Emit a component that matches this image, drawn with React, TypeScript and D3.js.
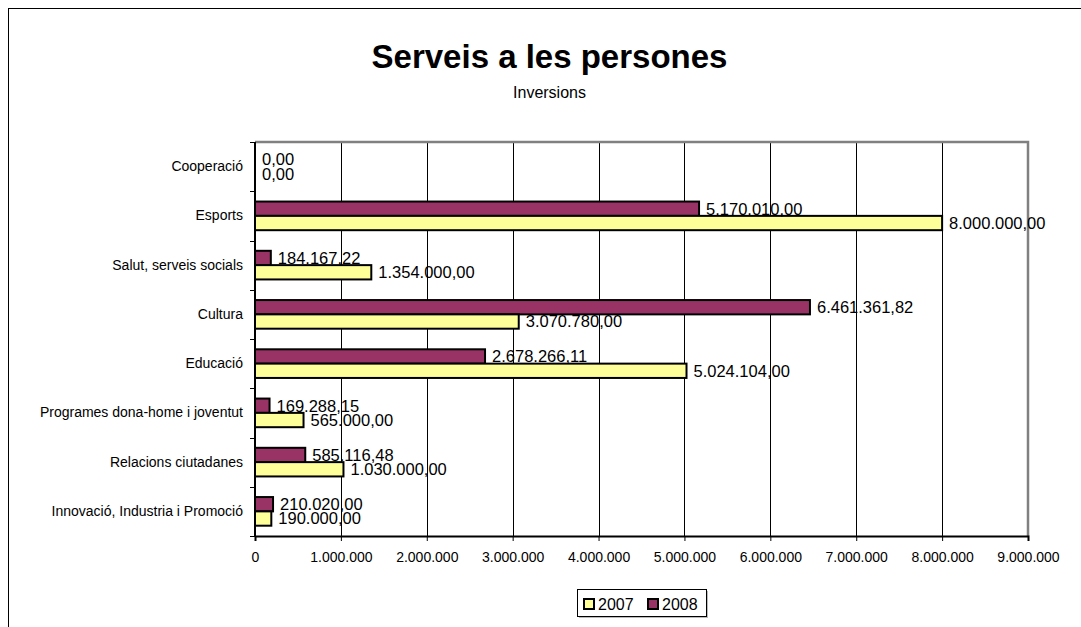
import React, { useEffect, useRef } from "react";
import * as d3 from "d3";

// categories, top to bottom as shown
const categories = [
  "Cooperació",
  "Esports",
  "Salut, serveis socials",
  "Cultura",
  "Educació",
  "Programes dona-home i joventut",
  "Relacions ciutadanes",
  "Innovació, Industria i Promoció"
];

const values2007 = [0, 8000000, 1354000, 3070780, 5024104, 565000, 1030000, 190000];
const values2008 = [0, 5170010, 184167.22, 6461361.82, 2678266.11, 169288.15, 585116.48, 210020];

const seriesNames = ["2007", "2008"];
const xTicks = [0, 1000000, 2000000, 3000000, 4000000, 5000000, 6000000, 7000000, 8000000, 9000000];

const FONT = "Arial, 'Liberation Sans', sans-serif";

export default function App() {
  const ref = useRef<SVGSVGElement>(null);

  useEffect(() => {
    const svg = d3.select(ref.current);
    svg.selectAll("*").remove();

    const locale = d3.formatLocale({
      decimal: ",",
      thousands: ".",
      grouping: [3],
      currency: ["", ""]
    });
    const fmtValue = locale.format(",.2f");
    const fmtTick = locale.format(",.0f");

    // plot area
    const left = 255,
      right = 1028,
      top = 142,
      bottom = 536;

    const x = d3.scaleLinear().domain([0, 9000000]).range([left, right]);
    const y = d3.scaleBand().domain(categories).range([top, bottom]).padding(0);
    const sub = d3
      .scaleBand()
      .domain(["2008", "2007"])
      .range([0, y.bandwidth()])
      .paddingInner(0)
      .paddingOuter(0.72);

    const colors: Record<string, string> = { "2007": "#FFFF99", "2008": "#993366" };

    // outer chart border
    svg
      .append("rect")
      .attr("x", 8.5)
      .attr("y", 8.5)
      .attr("width", 1200)
      .attr("height", 800)
      .attr("fill", "#fff")
      .attr("stroke", "#000")
      .attr("stroke-width", 1);

    // title
    svg
      .append("text")
      .attr("x", 549.5)
      .attr("y", 68)
      .attr("text-anchor", "middle")
      .style("font-family", FONT)
      .style("font-weight", "bold")
      .style("font-size", "33px")
      .text("Serveis a les persones");

    svg
      .append("text")
      .attr("x", 549.5)
      .attr("y", 98)
      .attr("text-anchor", "middle")
      .style("font-family", FONT)
      .style("font-size", "16px")
      .text("Inversions");

    // grid lines
    svg
      .append("g")
      .selectAll("line")
      .data(xTicks.slice(1, -1))
      .enter()
      .append("line")
      .attr("x1", d => Math.round(x(d)) + 0.5)
      .attr("x2", d => Math.round(x(d)) + 0.5)
      .attr("y1", top)
      .attr("y2", bottom)
      .attr("stroke", "#000")
      .attr("stroke-width", 1);

    // plot area border (grey top / right)
    svg
      .append("path")
      .attr("d", `M${left},${top} H${right} V${bottom}`)
      .attr("fill", "none")
      .attr("stroke", "#808080")
      .attr("stroke-width", 2.5);

    // bars
    const rows = categories.map((c, i) => ({
      cat: c,
      bars: [
        { key: "2008", value: values2008[i] },
        { key: "2007", value: values2007[i] }
      ]
    }));

    const groups = svg
      .append("g")
      .selectAll("g")
      .data(rows)
      .enter()
      .append("g")
      .attr("transform", d => `translate(0,${y(d.cat)})`);

    groups
      .selectAll("rect")
      .data(d => d.bars.filter(b => b.value > 0))
      .enter()
      .append("rect")
      .attr("x", left)
      .attr("y", d => sub(d.key)!)
      .attr("width", d => x(d.value) - left)
      .attr("height", sub.bandwidth())
      .attr("fill", d => colors[d.key])
      .attr("stroke", "#000")
      .attr("stroke-width", 2);

    groups
      .selectAll("text")
      .data(d => d.bars)
      .enter()
      .append("text")
      .attr("x", d => x(d.value) + 7)
      .attr("y", d => sub(d.key)! + sub.bandwidth() / 2)
      .attr("dy", "0.36em")
      .style("font-family", FONT)
      .style("font-size", "16.5px")
      .text(d => fmtValue(d.value));

    // left axis
    const leftAxis = svg
      .append("g")
      .attr("transform", `translate(${left},0)`)
      .call(
        d3
          .axisLeft(y)
          .tickSize(0)
          .tickPadding(12)
      );
    leftAxis.select(".domain").remove();
    leftAxis
      .selectAll("text")
      .style("font-family", FONT)
      .style("font-size", "14px")
      .attr("fill", "#000");

    // category boundary ticks
    const bounds = categories.map(c => y(c)!).concat([bottom]);
    svg
      .append("g")
      .selectAll("line")
      .data(bounds)
      .enter()
      .append("line")
      .attr("x1", left - 5)
      .attr("x2", left)
      .attr("y1", d => Math.round(d) + 0.5)
      .attr("y2", d => Math.round(d) + 0.5)
      .attr("stroke", "#000");

    svg
      .append("line")
      .attr("x1", left)
      .attr("x2", left)
      .attr("y1", top)
      .attr("y2", bottom)
      .attr("stroke", "#000")
      .attr("stroke-width", 2);

    // bottom axis
    const bottomAxis = svg
      .append("g")
      .attr("transform", `translate(0,${bottom})`)
      .call(
        d3
          .axisBottom(x)
          .tickValues(xTicks)
          .tickSize(5)
          .tickPadding(11)
          .tickFormat(d => fmtTick(+d))
      );
    bottomAxis.select(".domain").attr("stroke", "#000").attr("stroke-width", 2);
    bottomAxis.selectAll("line").attr("stroke", "#000");
    bottomAxis
      .selectAll("text")
      .style("font-family", FONT)
      .style("font-size", "14px")
      .attr("fill", "#000");

    // legend
    const legend = svg.append("g");
    legend
      .append("rect")
      .attr("x", 579)
      .attr("y", 591)
      .attr("width", 129)
      .attr("height", 27)
      .attr("fill", "#bbb");
    legend
      .append("rect")
      .attr("x", 577.5)
      .attr("y", 589.5)
      .attr("width", 129)
      .attr("height", 27)
      .attr("fill", "#fff")
      .attr("stroke", "#000");

    const legendX = [584, 648];
    seriesNames.forEach((s, i) => {
      legend
        .append("rect")
        .attr("x", legendX[i])
        .attr("y", 599)
        .attr("width", 10)
        .attr("height", 10)
        .attr("fill", colors[s])
        .attr("stroke", "#000")
        .attr("stroke-width", 2);
      legend
        .append("text")
        .attr("x", legendX[i] + 14)
        .attr("y", 609.5)
        .style("font-family", FONT)
        .style("font-size", "16px")
        .text(s);
    });
  }, []);

  return (
    <svg
      ref={ref}
      width={1081}
      height={627}
      style={{ position: "absolute", left: 0, top: 0, background: "#fff" }}
    />
  );
}
